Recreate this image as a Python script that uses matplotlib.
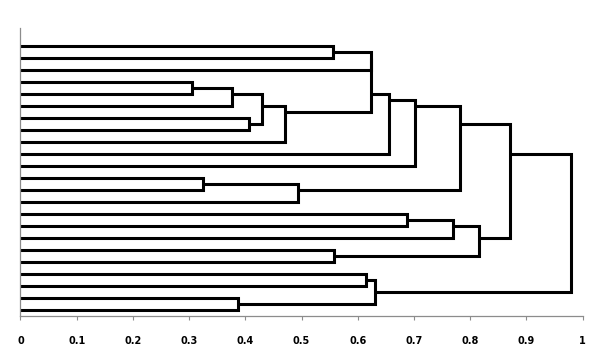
import numpy as np
import matplotlib
matplotlib.use("Agg")
from matplotlib import pyplot as plt

# 23 leaves, merges in linkage style (node ids start at 23)
n_leaves = 23
merge_left = [0, 23, 3, 25, 6, 26, 28, 24, 30, 31, 11, 33, 32, 14, 36, 17, 37, 35, 19, 21, 41, 40]
merge_right = [1, 2, 4, 5, 7, 27, 8, 29, 9, 10, 12, 13, 34, 15, 16, 18, 38, 39, 20, 22, 42, 43]
merge_height = [0.555, 0.623, 0.305, 0.377, 0.407, 0.429, 0.471, 0.623, 0.656, 0.702,
                0.324, 0.493, 0.782, 0.687, 0.769, 0.557, 0.816, 0.871, 0.615, 0.387,
                0.631, 0.979]
xticks = [0, 0.1, 0.2, 0.3, 0.4, 0.5, 0.6, 0.7, 0.8, 0.9, 1]
xticklabels = ["0", "0.1", "0.2", "0.3", "0.4", "0.5", "0.6", "0.7", "0.8", "0.9", "1"]

# leaf positions 1..23, node position = mean of its leaves
members = {i: [i + 1] for i in range(n_leaves)}
height = {i: 0.0 for i in range(n_leaves)}
pos = {i: float(i + 1) for i in range(n_leaves)}

fig = plt.figure(figsize=(6.05, 3.64), dpi=100)
ax = fig.add_axes([20.5 / 605, 48 / 364, 562.2 / 605, 288 / 364])

for k, (a, b, h) in enumerate(zip(merge_left, merge_right, merge_height)):
    node = n_leaves + k
    members[node] = members[a] + members[b]
    height[node] = h
    pos[node] = np.mean(members[node])
    ax.plot([height[a], h, h, height[b]], [pos[a], pos[a], pos[b], pos[b]],
            color="black", lw=2.2, solid_joinstyle="miter", solid_capstyle="butt")

ax.set_xlim(0, 1)
ax.set_ylim(n_leaves + 0.5, -0.5)
ax.spines['right'].set_visible(False)
ax.spines['top'].set_visible(False)
for s in ['left', 'bottom']:
    ax.spines[s].set_color("#8c8c8c")
    ax.spines[s].set_linewidth(0.9)
ax.set_yticks([])
ax.set_xticks(xticks)
ax.set_xticklabels(xticklabels, fontsize=7, fontweight="bold")
ax.tick_params(axis="x", direction="out", length=3, color="#8c8c8c", pad=11.5)

fig.savefig("out.png", dpi=100)
